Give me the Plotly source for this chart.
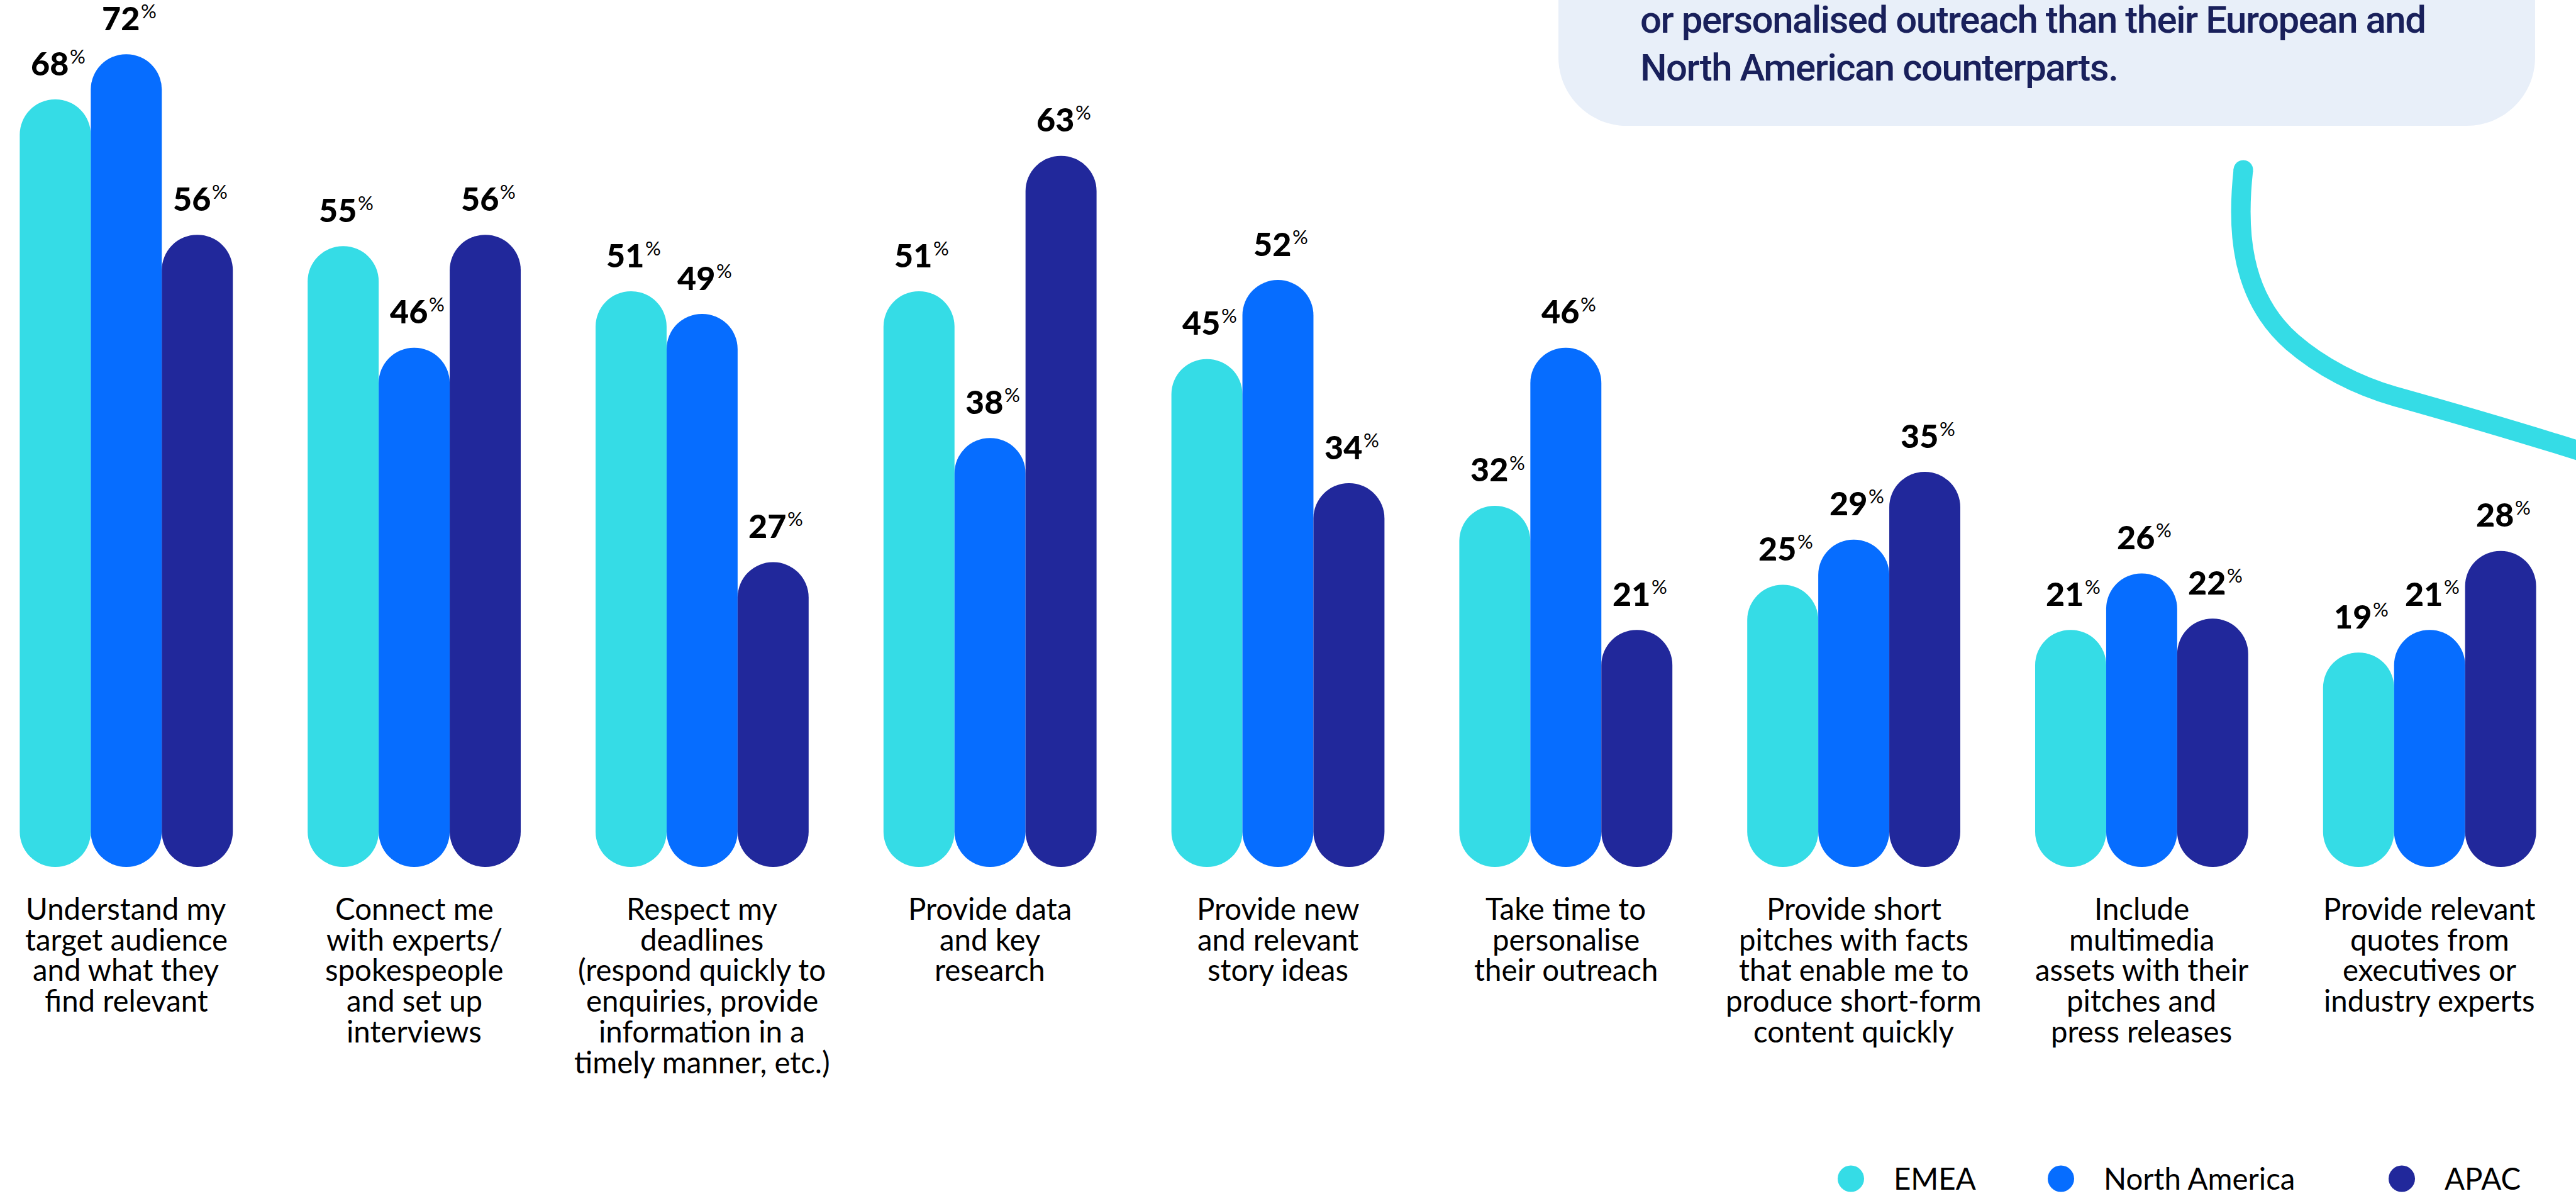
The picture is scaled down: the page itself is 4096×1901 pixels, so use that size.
import plotly.graph_objects as go

# ---- data -------------------------------------------------------------
categories = [
    "Understand my\ntarget audience\nand what they\nfind relevant",
    "Connect me\nwith experts/\nspokespeople\nand set up\ninterviews",
    "Respect my\ndeadlines\n(respond quickly to\nenquiries, provide\ninformation in a\ntimely manner, etc.)",
    "Provide data\nand key\nresearch",
    "Provide new\nand relevant\nstory ideas",
    "Take time to\npersonalise\ntheir outreach",
    "Provide short\npitches with facts\nthat enable me to\nproduce short-form\ncontent quickly",
    "Include\nmultimedia\nassets with their\npitches and\npress releases",
    "Provide relevant\nquotes from\nexecutives or\nindustry experts",
]
regions = ["EMEA", "North America", "APAC"]
emea = [68, 55, 51, 51, 45, 32, 25, 21, 19]
north_america = [72, 46, 49, 38, 52, 46, 29, 26, 21]
apac = [56, 56, 27, 63, 34, 21, 35, 22, 28]
region_colors = ["#35DCE6", "#066DFF", "#21289B"]

callout_lines = [
    "or personalised outreach than their European and",
    "North American counterparts.",
]

# ---- canvas / scale set-up ---------------------------------------------
W, H = 4096, 1901
X_FIRST = 200.8      # px position of the first category centre
X_STEP = 457.8       # px between category centres
Y_ZERO = 1378.0      # px position of value 0
Y_STEP = 17.94       # px per percentage point
BARGAP = 0.26
BAR_W = (1 - BARGAP) / 3   # width of one bar in category units

x_range = [-X_FIRST / X_STEP, (W - X_FIRST) / X_STEP]
y_range = [-(H - Y_ZERO) / Y_STEP, Y_ZERO / Y_STEP]


def px(x):
    return x / W


def py(y):
    return 1 - y / H


def path_from(cmds):
    out = []
    for c in cmds:
        if isinstance(c, str):
            out.append(c)
        else:
            out.append(f"{px(c[0]):.5f},{py(c[1]):.5f}")
    return " ".join(out)


fig = go.Figure()

series = [emea, north_america, apac]

# pill-shaped bars: an explicit base makes plotly round both ends
for name, vals, color in zip(regions, series, region_colors):
    fig.add_bar(
        x=categories, y=vals, base=0,
        offsetgroup=name, name=name, marker=dict(color=color, line=dict(width=0)),
        showlegend=False, hoverinfo="skip",
    )

annotations = []

# value labels above each bar: heavy figure + small raised percent sign
NUM_SIZE = 52
PCT_SIZE = 31
GAP = 38.5          # px between label baseline and bar top
NUM_RIGHT = 21      # px right of bar centre where the figure ends
for s, vals in enumerate(series):
    for i, v in enumerate(vals):
        xc = i + (s - 1) * BAR_W
        annotations.append(dict(
            x=xc, xref="x", y=v, yref="y", text=str(v),
            showarrow=False, xanchor="right", yanchor="bottom",
            xshift=NUM_RIGHT, yshift=GAP - 0.213 * NUM_SIZE,
            borderpad=0, borderwidth=0,
            font=dict(family="Lato", size=NUM_SIZE, color="#000000", weight=900),
        ))
        annotations.append(dict(
            x=xc, xref="x", y=v, yref="y", text="%",
            showarrow=False, xanchor="left", yanchor="bottom",
            xshift=NUM_RIGHT + 2, yshift=GAP + 18.5 - 0.213 * PCT_SIZE,
            borderpad=0, borderwidth=0,
            font=dict(family="Lato", size=PCT_SIZE, color="#000000", weight=400),
        ))

# category labels, one annotation per line for tight leading
CAT_SIZE = 47.4
CAT_BASE = 1461.7
CAT_LEAD = 48.8
for i, cat in enumerate(categories):
    for j, line in enumerate(cat.split("\n")):
        baseline = CAT_BASE + j * CAT_LEAD
        annotations.append(dict(
            x=i, xref="x", y=py(baseline + 0.213 * CAT_SIZE), yref="paper",
            text=line, showarrow=False, xanchor="center", yanchor="bottom",
            borderpad=0, borderwidth=0,
            font=dict(family="Lato", size=CAT_SIZE, color="#000000"),
        ))

shapes = []

# callout panel in the upper right
L, R, B, RAD = 2478, 4031, 200, 109
K = 0.5523 * RAD
shapes.append(dict(
    type="path", xref="paper", yref="paper", layer="below",
    path=path_from([
        "M", (L, -80), "L", (L, B - RAD),
        "C", (L, B - RAD + K), (L + RAD - K, B), (L + RAD, B),
        "L", (R - RAD, B),
        "C", (R - RAD + K, B), (R, B - RAD + K), (R, B - RAD),
        "L", (R, -80), "Z",
    ]),
    fillcolor="#E8EFF9", line=dict(width=0),
))

CALLOUT_SIZE = 60
for j, line in enumerate(callout_lines):
    baseline = 52 + j * 76
    annotations.append(dict(
        x=px(2608), xref="paper", y=py(baseline + 0.244 * CALLOUT_SIZE), yref="paper",
        text=f"<span style='letter-spacing:-1.5px'>{line}</span>",
        showarrow=False, xanchor="left", yanchor="bottom",
        borderpad=0, borderwidth=0,
        font=dict(family="Roboto", size=CALLOUT_SIZE, color="#19205B", weight=500),
    ))

# decorative swoosh leading out of the callout
SW = 31
shapes.append(dict(
    type="path", xref="paper", yref="paper", layer="above",
    path=path_from([
        "M", (3567, 270),
        "C", (3557, 360), (3560, 470), (3645, 544),
        "C", (3690, 583), (3748, 613), (3808, 630),
        "C", (3908, 658), (4050, 700), (4150, 732),
    ]),
    fillcolor="rgba(0,0,0,0)", line=dict(color=region_colors[0], width=SW),
))
shapes.append(dict(
    type="circle", xref="paper", yref="paper", layer="above",
    x0=px(3567 - SW / 2), x1=px(3567 + SW / 2),
    y0=py(270 + SW / 2), y1=py(270 - SW / 2),
    fillcolor=region_colors[0], line=dict(width=0),
))

# legend: dot + label for each region
legend_dot_x = [2943, 3277, 3819]
LEG_Y = 1873.5
LEG_R = 21
LEG_SIZE = 47.4
for name, color, cx in zip(regions, region_colors, legend_dot_x):
    shapes.append(dict(
        type="circle", xref="paper", yref="paper",
        x0=px(cx - LEG_R), x1=px(cx + LEG_R),
        y0=py(LEG_Y + LEG_R), y1=py(LEG_Y - LEG_R),
        fillcolor=color, line=dict(width=0),
    ))
    annotations.append(dict(
        x=px(cx + 68), xref="paper", y=py(1891 + 0.213 * LEG_SIZE), yref="paper",
        text=name, showarrow=False, xanchor="left", yanchor="bottom",
        borderpad=0, borderwidth=0,
        font=dict(family="Lato", size=LEG_SIZE, color="#000000"),
    ))

fig.update_layout(
    width=W, height=H, autosize=False,
    margin=dict(l=0, r=0, t=0, b=0, pad=0),
    paper_bgcolor="#FFFFFF", plot_bgcolor="#FFFFFF",
    barmode="group", bargap=BARGAP, bargroupgap=0, barcornerradius="50%",
    showlegend=False,
    font=dict(family="Lato", color="#000000"),
    xaxis=dict(range=x_range, showgrid=False, zeroline=False, showticklabels=False,
               showline=False, ticks="", fixedrange=True),
    yaxis=dict(range=y_range, showgrid=False, zeroline=False, showticklabels=False,
               showline=False, ticks="", fixedrange=True),
    annotations=annotations,
    shapes=shapes,
)

fig.write_html("out.html", config={"displayModeBar": False})
